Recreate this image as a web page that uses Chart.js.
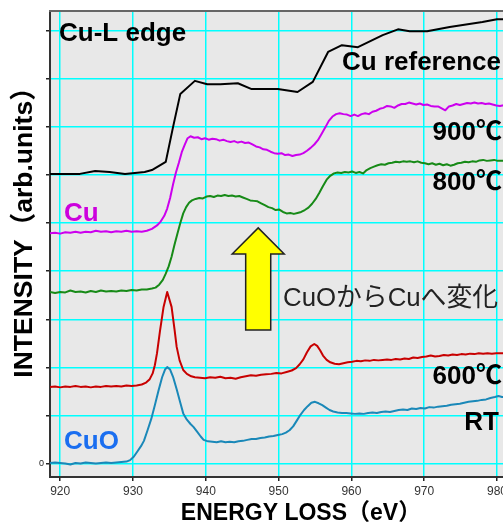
<!DOCTYPE html>
<html><head><meta charset="utf-8">
<script src="https://cdn.jsdelivr.net/npm/chart.js@4"></script>
<style>html,body{margin:0;padding:0;overflow:hidden;background:#fff;width:503px;height:522px}canvas{display:block}</style>
</head><body>
<canvas id="c" width="520" height="522" style="width:520px;height:522px"></canvas>
<script>
// ---- data (energy loss eV, intensity in arbitrary offset units) ----
const xTicks = [920, 930, 940, 950, 960, 970, 980];
const yTicks = [0, 1, 2, 3, 4, 5, 6, 7, 8, 9];
const seriesNames = ['Cu reference', '900℃', '800℃', '600℃', 'RT'];

const cuReference = [[918.6,6.02],[922.7,6.02],[924.8,6.08],[926.8,6.06],[928.9,6.02],[931.6,6.06],[932.6,6.10],[934.5,6.27],[935.5,6.99],[936.5,7.68],[938.5,7.95],[940.2,7.88],[942.0,7.88],[944.4,7.90],[946.3,7.78],[949.9,7.78],[952.6,7.72],[954.7,7.93],[956.8,8.55],[958.7,8.69],[960.9,8.65],[964.3,8.90],[966.4,9.02],[968.0,8.98],[970.4,8.98],[973.5,9.07],[978.0,9.17],[980.0,9.23],[981.1,9.23]];

const sample900 = [[918.6,4.79],[919.3,4.80],[920.0,4.78],[920.7,4.81],[921.4,4.80],[922.1,4.82],[922.8,4.80],[923.5,4.82],[924.2,4.81],[924.9,4.84],[925.6,4.82],[926.3,4.83],[927.0,4.81],[927.7,4.83],[928.4,4.82],[929.1,4.84],[929.8,4.82],[930.5,4.83],[931.2,4.82],[931.9,4.84],[932.6,4.88],[933.3,4.95],[933.8,5.03],[934.3,5.15],[934.7,5.30],[935.1,5.52],[935.5,5.80],[935.9,6.05],[936.3,6.25],[936.7,6.47],[937.1,6.62],[937.5,6.76],[937.9,6.80],[938.4,6.77],[938.9,6.78],[939.4,6.74],[939.9,6.76],[940.4,6.73],[940.9,6.75],[941.4,6.74],[941.9,6.71],[942.4,6.73],[942.9,6.70],[943.4,6.68],[943.9,6.70],[944.4,6.67],[944.9,6.69],[945.4,6.66],[945.9,6.67],[946.4,6.63],[946.9,6.59],[947.4,6.57],[947.9,6.53],[948.4,6.52],[948.9,6.48],[949.4,6.45],[949.9,6.44],[950.4,6.45],[950.9,6.41],[951.4,6.42],[951.9,6.39],[952.4,6.41],[952.9,6.42],[953.4,6.45],[953.9,6.50],[954.4,6.56],[954.9,6.63],[955.4,6.72],[955.9,6.85],[956.4,6.98],[956.9,7.12],[957.4,7.21],[957.9,7.26],[958.4,7.28],[958.9,7.26],[959.4,7.25],[959.9,7.22],[960.4,7.25],[960.9,7.22],[961.4,7.26],[961.9,7.28],[962.4,7.26],[962.9,7.31],[963.4,7.33],[963.9,7.37],[964.4,7.39],[964.9,7.43],[965.4,7.42],[965.9,7.39],[966.4,7.44],[966.9,7.47],[967.4,7.47],[967.9,7.50],[968.4,7.48],[968.9,7.46],[969.4,7.48],[969.9,7.45],[970.4,7.46],[970.9,7.43],[971.4,7.42],[971.9,7.42],[972.4,7.38],[972.9,7.34],[973.4,7.42],[973.9,7.44],[974.4,7.47],[974.9,7.45],[975.4,7.47],[975.9,7.49],[976.4,7.48],[976.9,7.50],[977.4,7.48],[977.9,7.49],[978.4,7.47],[978.9,7.48],[979.4,7.46],[979.9,7.44],[980.4,7.43],[981.1,7.45]];

const sample800 = [[918.6,3.57],[919.3,3.55],[920.0,3.57],[920.7,3.56],[921.4,3.60],[922.1,3.57],[922.8,3.58],[923.5,3.56],[924.2,3.59],[924.9,3.57],[925.6,3.60],[926.3,3.58],[927.0,3.59],[927.7,3.58],[928.4,3.60],[929.1,3.59],[929.8,3.61],[930.5,3.60],[931.2,3.62],[931.9,3.62],[932.6,3.64],[933.1,3.66],[933.6,3.72],[934.1,3.82],[934.5,3.95],[934.9,4.10],[935.3,4.30],[935.7,4.55],[936.1,4.78],[936.5,5.00],[936.9,5.20],[937.3,5.33],[937.7,5.42],[938.1,5.47],[938.6,5.50],[939.1,5.52],[939.6,5.51],[940.1,5.55],[940.6,5.56],[941.1,5.54],[941.6,5.57],[942.1,5.56],[942.6,5.58],[943.1,5.56],[943.6,5.57],[944.1,5.55],[944.6,5.56],[945.1,5.53],[945.6,5.50],[946.1,5.47],[946.6,5.46],[947.1,5.45],[947.6,5.41],[948.1,5.37],[948.6,5.33],[949.1,5.31],[949.6,5.27],[950.1,5.28],[950.6,5.23],[951.1,5.20],[951.6,5.21],[952.1,5.19],[952.6,5.21],[953.1,5.23],[953.6,5.27],[954.1,5.32],[954.6,5.40],[955.1,5.50],[955.6,5.63],[956.1,5.77],[956.6,5.90],[957.1,5.98],[957.6,6.03],[958.1,6.05],[958.6,6.04],[959.1,6.06],[959.6,6.05],[960.1,6.07],[960.6,6.04],[961.1,6.06],[961.6,6.03],[962.1,6.10],[962.6,6.14],[963.1,6.17],[963.6,6.20],[964.1,6.22],[964.6,6.21],[965.1,6.24],[965.6,6.25],[966.1,6.27],[966.6,6.26],[967.1,6.28],[967.6,6.27],[968.1,6.28],[968.6,6.26],[969.1,6.28],[969.6,6.25],[970.1,6.24],[970.6,6.22],[971.1,6.24],[971.6,6.21],[972.1,6.23],[972.6,6.20],[973.1,6.22],[973.6,6.19],[974.1,6.21],[974.6,6.24],[975.1,6.25],[975.6,6.27],[976.1,6.26],[976.6,6.28],[977.1,6.27],[977.6,6.30],[978.1,6.31],[978.6,6.29],[979.1,6.30],[979.6,6.31],[980.1,6.29],[981.1,6.29]];

const sample600 = [[918.6,1.60],[919.3,1.61],[920.0,1.59],[920.7,1.61],[921.4,1.60],[922.1,1.62],[922.8,1.60],[923.5,1.61],[924.2,1.59],[924.9,1.61],[925.6,1.60],[926.3,1.62],[927.0,1.61],[927.7,1.62],[928.4,1.61],[929.1,1.63],[929.8,1.62],[930.5,1.63],[931.2,1.65],[931.8,1.69],[932.3,1.76],[932.7,1.88],[933.0,2.05],[933.3,2.30],[933.7,2.75],[934.2,3.26],[934.7,3.57],[935.3,3.26],[935.7,2.80],[936.0,2.43],[936.4,2.15],[936.9,1.95],[937.4,1.87],[938.0,1.82],[938.5,1.80],[939.2,1.79],[939.9,1.78],[940.6,1.80],[941.3,1.79],[942.0,1.81],[942.7,1.78],[943.4,1.79],[944.1,1.77],[944.8,1.80],[945.5,1.82],[946.2,1.84],[946.9,1.83],[947.6,1.85],[948.3,1.86],[949.0,1.87],[949.7,1.89],[950.4,1.88],[951.1,1.91],[951.8,1.94],[952.4,1.99],[952.9,2.07],[953.4,2.17],[953.9,2.32],[954.4,2.44],[954.9,2.49],[955.3,2.45],[955.7,2.36],[956.1,2.25],[956.6,2.16],[957.1,2.11],[957.7,2.08],[958.3,2.07],[958.9,2.09],[959.5,2.11],[960.1,2.12],[960.7,2.14],[961.3,2.13],[961.9,2.15],[962.5,2.14],[963.1,2.16],[963.7,2.15],[964.3,2.16],[964.9,2.17],[965.5,2.16],[966.1,2.18],[966.7,2.17],[967.3,2.19],[967.9,2.18],[968.5,2.21],[969.1,2.20],[969.7,2.22],[970.3,2.23],[970.9,2.25],[971.5,2.23],[972.1,2.24],[972.7,2.26],[973.3,2.25],[973.9,2.27],[974.5,2.26],[975.1,2.28],[975.7,2.27],[976.3,2.29],[976.9,2.28],[977.5,2.30],[978.1,2.29],[978.7,2.30],[979.3,2.29],[979.9,2.30],[981.1,2.30]];

const sampleRT = [[918.6,0.02],[919.3,0.03],[920.0,0.02],[920.7,0.01],[921.4,-0.01],[922.1,0.02],[922.8,0.01],[923.5,0.03],[924.2,0.02],[924.9,0.01],[925.6,0.02],[926.3,0.03],[927.0,0.02],[927.7,0.03],[928.4,0.04],[929.1,0.05],[929.6,0.08],[930.1,0.15],[930.6,0.26],[931.1,0.37],[931.5,0.48],[932.0,0.70],[932.5,0.93],[933.0,1.22],[933.5,1.52],[934.0,1.80],[934.4,1.96],[934.7,2.01],[935.1,1.96],[935.5,1.81],[936.0,1.55],[936.5,1.27],[936.9,1.05],[937.4,0.92],[937.9,0.83],[938.3,0.77],[938.8,0.67],[939.3,0.57],[939.7,0.50],[940.3,0.47],[940.9,0.46],[941.5,0.45],[942.1,0.47],[942.7,0.45],[943.3,0.46],[943.9,0.45],[944.5,0.47],[945.1,0.48],[945.7,0.50],[946.3,0.52],[946.9,0.52],[947.5,0.54],[948.1,0.55],[948.7,0.57],[949.3,0.58],[949.9,0.60],[950.5,0.62],[951.0,0.65],[951.5,0.70],[952.0,0.78],[952.5,0.90],[953.0,1.02],[953.5,1.12],[954.0,1.20],[954.5,1.27],[955.0,1.29],[955.5,1.26],[956.0,1.22],[956.5,1.17],[957.0,1.12],[957.5,1.09],[958.1,1.07],[958.7,1.06],[959.3,1.06],[959.9,1.05],[960.5,1.04],[961.1,1.05],[961.7,1.04],[962.3,1.06],[962.9,1.07],[963.5,1.06],[964.1,1.08],[964.7,1.09],[965.3,1.08],[965.9,1.10],[966.5,1.12],[967.1,1.13],[967.7,1.12],[968.3,1.15],[968.9,1.14],[969.5,1.16],[970.1,1.15],[970.7,1.18],[971.3,1.17],[971.9,1.19],[972.5,1.20],[973.1,1.21],[973.7,1.23],[974.3,1.24],[974.9,1.25],[975.5,1.27],[976.1,1.29],[976.7,1.30],[977.3,1.31],[977.9,1.33],[978.5,1.34],[979.1,1.37],[979.7,1.39],[980.2,1.41],[980.7,1.39],[981.1,1.39]];

const seriesData = [cuReference, sample900, sample800, sample600, sampleRT];
const seriesColors = ['#000000', '#cc00ee', '#178a17', '#c80000', '#1a88b8'];

// ---- chart ----
const toPts = arr => arr.map(p => ({x: p[0], y: p[1]}));

const decor = {
  id: 'decor',
  beforeDraw(chart) {
    const {ctx, chartArea: a} = chart;
    ctx.save();
    ctx.fillStyle = '#e8e8e8';
    ctx.fillRect(a.left, a.top, a.right - a.left, a.bottom - a.top);
    ctx.restore();
  },
  afterDraw(chart) {
    const {ctx, chartArea: a, scales: {x, y}} = chart;
    ctx.save();
    // top border
    ctx.strokeStyle = '#666';
    ctx.lineWidth = 2;
    ctx.beginPath(); ctx.moveTo(a.left - 1, a.top); ctx.lineTo(a.right, a.top); ctx.stroke();

    // arrow (positioned in data units)
    const cx = x.getPixelForValue(947.2);
    const headHalf = x.getPixelForValue(950.77) - cx;
    const shaftHalf = x.getPixelForValue(948.92) - cx;
    const tipY = y.getPixelForValue(4.90), baseY = y.getPixelForValue(4.36), botY = y.getPixelForValue(2.78);
    ctx.beginPath();
    ctx.moveTo(cx, tipY);
    ctx.lineTo(cx + headHalf, baseY);
    ctx.lineTo(cx + shaftHalf, baseY);
    ctx.lineTo(cx + shaftHalf, botY);
    ctx.lineTo(cx - shaftHalf, botY);
    ctx.lineTo(cx - shaftHalf, baseY);
    ctx.lineTo(cx - headHalf, baseY);
    ctx.closePath();
    ctx.fillStyle = '#ffff00';
    ctx.fill();
    ctx.lineWidth = 1.5;
    ctx.strokeStyle = '#222';
    ctx.stroke();

    // labels
    const bold = 'bold 26px "Liberation Sans", Arial, "Noto Sans CJK JP", sans-serif';
    ctx.textBaseline = 'middle';
    const label = (t, px, py, align, color, font) => {
      ctx.font = font || bold;
      ctx.fillStyle = color;
      ctx.textAlign = align;
      ctx.fillText(t, px, py);
    };
    label('Cu-L edge', 59, 34, 'left', '#000');
    label(seriesNames[0], 501, 63, 'right', '#000');
    label(seriesNames[1], 502, 133, 'right', '#000');
    label(seriesNames[2], 502, 183, 'right', '#000');
    label('Cu', 64, 214, 'left', '#cc00dd');
    label('CuOからCuへ変化', 283, 299, 'left', '#222', '25.8px "Liberation Sans", "Noto Sans CJK JP", sans-serif');
    label(seriesNames[3], 502, 377, 'right', '#000');
    label(seriesNames[4], 499, 423, 'right', '#000');
    label('CuO', 64, 442, 'left', '#1a6ef0');

    // axis titles
    ctx.fillStyle = '#000';
    ctx.font = 'bold 23px "Liberation Sans", Arial, "Noto Sans CJK JP", sans-serif';
    ctx.textAlign = 'center';
    ctx.textBaseline = 'alphabetic';
    ctx.fillText('ENERGY LOSS（eV）', 301, 520);

    ctx.translate(32, 226);
    ctx.rotate(-Math.PI / 2);
    ctx.font = 'bold 26.5px "Liberation Sans", Arial, "Noto Sans CJK JP", sans-serif';
    ctx.fillText('INTENSITY（arb.units）', 0, 0);
    ctx.restore();
  }
};

new Chart(document.getElementById('c'), {
  type: 'scatter',
  data: {
    datasets: seriesData.map((d, i) => ({
      label: seriesNames[i],
      data: toPts(d),
      showLine: true,
      borderColor: seriesColors[i],
      backgroundColor: seriesColors[i],
      borderWidth: 2,
      pointRadius: 0,
      tension: 0,
      borderJoinStyle: 'round'
    }))
  },
  options: {
    responsive: false,
    animation: false,
    devicePixelRatio: 1,
    layout: {padding: {left: 0, top: 11, right: 15, bottom: 0}},
    plugins: {legend: {display: false}, tooltip: {enabled: false}},
    scales: {
      x: {
        type: 'linear',
        min: 918.6,
        max: 981.1,
        afterFit: s => { s.height = 45; },
        afterBuildTicks: s => { s.ticks = xTicks.map(v => ({value: v})); },
        ticks: {
          includeBounds: false,
          autoSkip: false,
          maxRotation: 0,
          padding: 3,
          color: '#333',
          font: {family: '"Liberation Sans", Arial, sans-serif', size: 12}
        },
        grid: {color: '#00ffff', lineWidth: 1.5, tickColor: '#222', tickLength: 4, drawOnChartArea: true},
        border: {display: true, color: '#333', width: 2}
      },
      y: {
        type: 'linear',
        min: -0.27,
        max: 9.40,
        afterFit: s => { s.width = 50; },
        afterBuildTicks: s => { s.ticks = yTicks.map(v => ({value: v})); },
        ticks: {
          includeBounds: false,
          autoSkip: false,
          padding: 2,
          color: '#222',
          font: {family: '"Liberation Sans", Arial, sans-serif', size: 9},
          callback: v => (v === 0 ? '0' : '')
        },
        grid: {color: '#00ffff', lineWidth: 1.5, tickColor: '#222', tickLength: 4},
        border: {display: true, color: '#333', width: 2}
      }
    }
  },
  plugins: [decor]
});
</script>
</body></html>
